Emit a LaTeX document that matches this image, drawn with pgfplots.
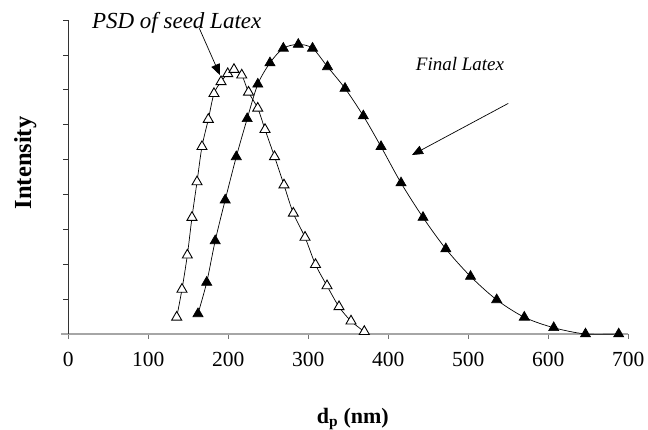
\documentclass[border=0pt]{standalone}
\usepackage{fontspec}
\setmainfont{Liberation Serif}
\usepackage{pgfplots}
\pgfplotsset{compat=1.18}
\usetikzlibrary{arrows.meta}

% particle size distributions: d_p (nm) vs. intensity
\pgfplotstableread{
dp     I
135.5  0.48
142.1  1.28
148.8  2.26
154.6  3.34
160.9  4.36
167.1  5.37
175.0  6.15
182.1  6.89
190.9  7.23
199.3  7.46
207.1  7.58
216.8  7.42
225.3  6.93
236.8  6.47
245.9  5.86
257.8  5.08
269.6  4.27
281.3  3.46
295.9  2.77
309.0  1.99
323.4  1.38
338.4  0.78
353.4  0.37
370.0  0.07
}\seed

\pgfplotstableread{
dp     I
162.1  0.58
173.0  1.48
183.6  2.67
196.1  3.84
210.0  5.08
223.6  6.17
236.9  7.16
252.1  7.77
268.8  8.19
287.5  8.30
305.3  8.19
324.0  7.66
345.9  7.04
368.8  6.25
390.9  5.37
415.9  4.33
443.4  3.34
471.9  2.44
502.8  1.65
535.5  0.98
570.0  0.48
606.8  0.18
646.5  0.00
688.0  0.00
}\final

\begin{document}
\begin{tikzpicture}
\begin{axis}[
  at={(0pt,0pt)}, anchor=south west,
  scale only axis, width=560pt, height=314pt,
  xmin=0, xmax=700, ymin=0, ymax=9,
  axis lines=left,
  x axis line style={-, draw=black!35, line width=1.6pt, shorten <=-7pt},
  y axis line style={-, draw=black!80, line width=0.6pt},
  xtick={0,100,...,700}, ytick={0,1,...,9}, yticklabels={},
  tick align=outside, major tick length=5pt,
  x tick style={black!55, line width=0.8pt},
  y tick style={black!80, line width=0.6pt},
  /pgf/number format/assume math mode=true,
  ticklabel style={font=\fontsize{21.5}{25}\selectfont},
  xticklabel style={yshift=-10pt},
  xlabel={\textbf{d\textsubscript{p} (nm)}},
  xlabel style={font=\fontsize{22}{26}\selectfont, at={(axis description cs:0.508,-0.27)}, anchor=center},
  ylabel={\textbf{Intensity}},
  ylabel style={font=\fontsize{24.5}{28}\selectfont, at={(axis description cs:-0.077,0.545)}, anchor=center},
  clip=false,
]
\addplot[black, line width=0.7pt, smooth, mark=triangle*, mark size=5.8pt,
  mark options={fill=white, draw=black, line width=0.9pt}] table[x=dp, y=I] {\seed};
\addplot[black, line width=0.7pt, smooth, mark=triangle*, mark size=5.8pt,
  mark options={fill=black, draw=black}] table[x=dp, y=I] {\final};

\node[font=\fontsize{23}{27}\selectfont\itshape] at (axis cs:135.5,8.93) {PSD of seed Latex};
\draw[black, line width=0.7pt, -{Triangle[length=11pt,width=9pt]}] (axis cs:163.8,8.76) -- (axis cs:189.6,7.42);
\node[font=\fontsize{19}{23}\selectfont\itshape] at (axis cs:489.6,7.74) {Final Latex};
\draw[black, line width=0.7pt, -{Triangle[length=11pt,width=9pt]}] (axis cs:550,6.61) -- (axis cs:429.6,5.13);
\end{axis}
\pgfresetboundingbox
\path (-68.3pt,-96pt) rectangle (579.7pt,334pt);
\end{tikzpicture}
\end{document}
